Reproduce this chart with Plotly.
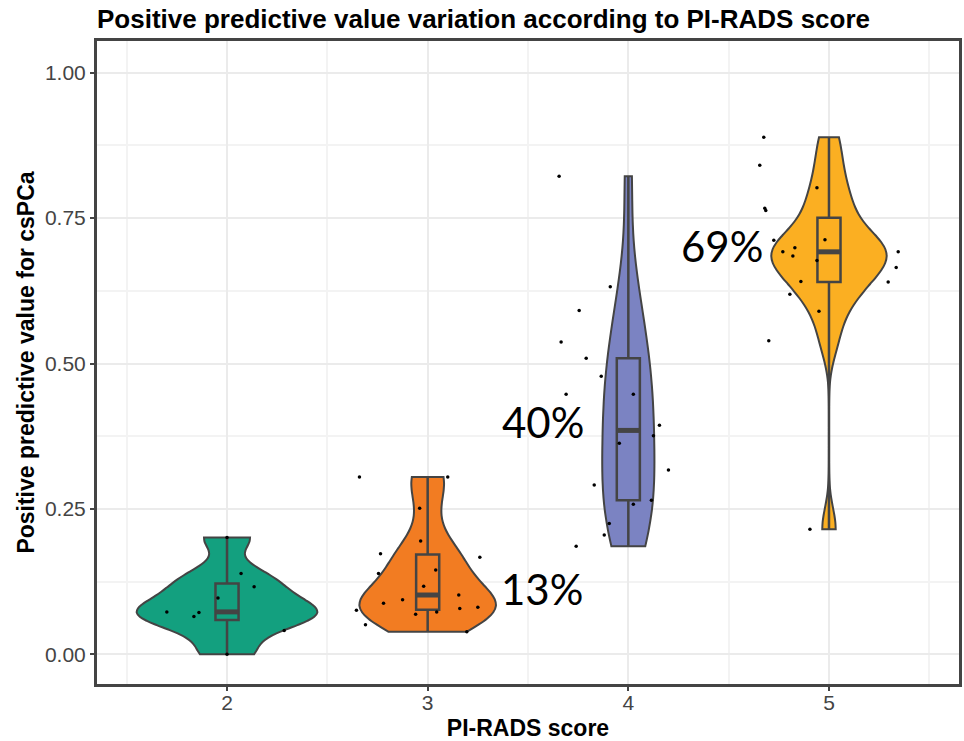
import numpy as np
import plotly.graph_objects as go

# ---------------- data ----------------
categories = [2, 3, 4, 5]

ppv_2 = [0.201, 0.139, 0.116, 0.097, 0.073, 0.072, 0.065, 0.041, 0.0]
jitter_2 = [0.0, 0.07, 0.135, -0.045, -0.30, -0.14, -0.165, 0.285, 0.0]

ppv_3 = [0.305, 0.305, 0.251, 0.195, 0.173, 0.167, 0.145, 0.139, 0.117, 0.102,
         0.088, 0.094, 0.079, 0.081, 0.076, 0.069, 0.073, 0.051, 0.039]
jitter_3 = [-0.34, 0.10, -0.04, -0.035, -0.235, 0.26, 0.04, -0.245, -0.02, 0.155,
            -0.22, -0.125, 0.16, 0.25, -0.355, -0.06, 0.045, -0.31, 0.195]

ppv_4 = [0.822, 0.632, 0.591, 0.537, 0.509, 0.478, 0.447, 0.447, 0.394, 0.376,
         0.363, 0.317, 0.291, 0.265, 0.258, 0.225, 0.205, 0.186]
jitter_4 = [-0.345, -0.09, -0.245, -0.335, -0.21, -0.135, -0.31, 0.025, 0.155, 0.125,
            -0.045, 0.2, -0.17, 0.115, 0.025, -0.095, -0.12, -0.26]

ppv_5 = [0.889, 0.841, 0.802, 0.767, 0.763, 0.713, 0.712, 0.699, 0.692, 0.692,
         0.685, 0.677, 0.665, 0.641, 0.640, 0.619, 0.590, 0.539, 0.215]
jitter_5 = [-0.325, -0.345, -0.06, -0.32, -0.315, -0.02, -0.275, -0.17, -0.23, 0.345,
            -0.18, -0.06, 0.335, -0.14, 0.295, -0.195, -0.05, -0.30, -0.095]

ppv_groups = [ppv_2, ppv_3, ppv_4, ppv_5]
jitter_groups = [jitter_2, jitter_3, jitter_4, jitter_5]

label_groups = [3, 4, 5]
label_texts = ["13%", "40%", "69%"]

# ---------------- style ----------------
colors = ["#13A07F", "#F27C22", "#7B83C2", "#FBAF22"]
violin_widths = [0.90, 0.68, 0.26, 0.575]
box_width = 0.115
outline = "#444444"
label_pos = {3: (3.572, 0.112), 4: (3.575, 0.40), 5: (4.468, 0.702)}


def nrd0(v):
    v = np.asarray(v, dtype=float)
    sd = v.std(ddof=1)
    q75, q25 = np.percentile(v, [75, 25])
    lo = min(sd, (q75 - q25) / 1.34)
    if lo <= 0:
        lo = sd
    return 0.9 * lo * len(v) ** -0.2


fig = go.Figure()

for cat, vals, col, w in zip(categories, ppv_groups, colors, violin_widths):
    fig.add_trace(go.Violin(
        x0=cat, y=vals, name=str(cat),
        fillcolor=col, line=dict(color=outline, width=2),
        opacity=1, width=w, scalemode="width",
        spanmode="hard", bandwidth=nrd0(vals),
        points=False, box_visible=False, meanline_visible=False,
        hoverinfo="skip", showlegend=False,
    ))

for cat, vals, col in zip(categories, ppv_groups, colors):
    fig.add_trace(go.Box(
        x=[cat] * len(vals), y=vals,
        fillcolor=col, line=dict(color=outline, width=2.5),
        width=box_width, whiskerwidth=0, boxpoints=False,
        hoverinfo="skip", showlegend=False,
    ))
    med = float(np.median(vals))
    fig.add_trace(go.Scatter(
        x=[cat - box_width / 2, cat + box_width / 2], y=[med, med],
        mode="lines", line=dict(color=outline, width=5),
        hoverinfo="skip", showlegend=False,
    ))

for cat, vals, jit in zip(categories, ppv_groups, jitter_groups):
    fig.add_trace(go.Scatter(
        x=[cat + j for j in jit], y=vals, mode="markers",
        marker=dict(color="black", size=3.5),
        hoverinfo="skip", showlegend=False,
    ))

for g, t in zip(label_groups, label_texts):
    lx, ly = label_pos[g]
    fig.add_annotation(x=lx, y=ly, text=t, showarrow=False,
                       xanchor="center", yanchor="middle",
                       font=dict(family="Lato, Open Sans, sans-serif", size=42, color="black"))

axis_font = dict(family="Liberation Sans, Arial, sans-serif", size=21, color="#444444")
title_font = dict(family="Liberation Sans, Arial, sans-serif", size=23, color="black")

fig.update_layout(
    width=964, height=741,
    margin=dict(l=97, r=5, t=41, b=57, autoexpand=False),
    paper_bgcolor="white", plot_bgcolor="white",
    violinmode="overlay", boxmode="overlay",
    title=dict(text="<b>Positive predictive value variation according to PI-RADS score</b>",
               x=0.0, xref="paper", xanchor="left",
               y=1 - 19 / 741, yref="container", yanchor="middle",
               font=dict(family="Liberation Sans, Arial, sans-serif", size=26, color="black")),
    xaxis=dict(
        range=[1.352, 5.648], tickmode="array", tickvals=categories,
        ticktext=[str(c) for c in categories], automargin=False,
        showgrid=True, gridcolor="#EBEBEB", gridwidth=2,
        minor=dict(tickmode="array", tickvals=[1.5, 2.5, 3.5, 4.5, 5.5],
                   showgrid=True, gridcolor="#F3F3F3", gridwidth=1.5, ticks=""),
        showline=True, linecolor="#444444", linewidth=3, mirror=True,
        ticks="outside", ticklen=4, tickwidth=1.5, tickcolor="#444444",
        ticklabelstandoff=-6,
        tickfont=axis_font, zeroline=False,
        title=dict(text="<b>PI-RADS score</b>", font=title_font, standoff=18),
    ),
    yaxis=dict(
        range=[-0.051, 1.0545], tickmode="array", automargin=False,
        tickvals=[0, 0.25, 0.5, 0.75, 1.0], tickformat=".2f",
        showgrid=True, gridcolor="#EBEBEB", gridwidth=2,
        minor=dict(tickmode="array", tickvals=[0.125, 0.375, 0.625, 0.875],
                   showgrid=True, gridcolor="#F3F3F3", gridwidth=1.5, ticks=""),
        showline=True, linecolor="#444444", linewidth=3, mirror=True,
        ticks="outside", ticklen=4, tickwidth=1.5, tickcolor="#444444",
        tickfont=axis_font, zeroline=False,
        title=dict(text="<b>Positive predictive value for csPCa</b>", font=title_font, standoff=4),
    ),
)

fig.write_html("out.html")
